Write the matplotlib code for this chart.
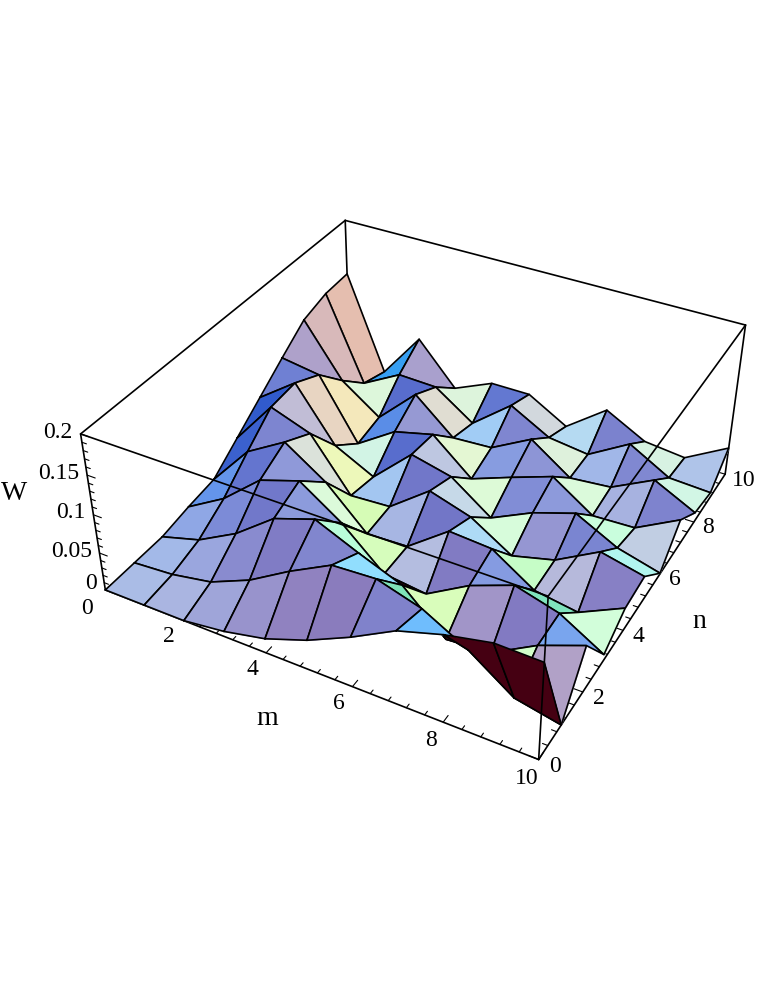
import numpy as np
import matplotlib
matplotlib.use("Agg")
import matplotlib.pyplot as plt
from mpl_toolkits.mplot3d import proj3d
from mpl_toolkits.mplot3d.art3d import Poly3DCollection

# W[n][m]
W_n0 = [0.000, 0.000, 0.000, 0.007, 0.019, 0.039, 0.065, 0.095, 0.112, 0.124, 0.123]
W_n1 = [0.000, 0.004, 0.014, 0.037, 0.069, 0.097, 0.100, 0.083, 0.052, 0.012, 0.000]
W_n2 = [0.000, 0.015, 0.043, 0.082, 0.100, 0.076, 0.054, 0.003, 0.007, 0.039, 0.061]
W_n3 = [0.007, 0.037, 0.080, 0.097, 0.060, 0.011, 0.004, 0.036, 0.057, 0.041, 0.008]
W_n4 = [0.012, 0.068, 0.098, 0.062, 0.010, 0.012, 0.052, 0.048, 0.012, 0.003, 0.030]
W_n5 = [0.038, 0.097, 0.078, 0.010, 0.013, 0.053, 0.036, 0.002, 0.016, 0.047, 0.034]
W_n6 = [0.064, 0.100, 0.030, 0.003, 0.052, 0.039, 0.000, 0.026, 0.044, 0.016, 0.001]
W_n7 = [0.090, 0.082, 0.001, 0.035, 0.048, 0.003, 0.023, 0.042, 0.006, 0.008, 0.038]
W_n8 = [0.115, 0.045, 0.008, 0.057, 0.012, 0.015, 0.044, 0.007, 0.012, 0.040, 0.013]
W_n9 = [0.125, 0.012, 0.040, 0.038, 0.002, 0.044, 0.015, 0.008, 0.040, 0.010, 0.007]
W_n10 = [0.127, 0.000, 0.063, 0.007, 0.030, 0.030, 0.000, 0.040, 0.012, 0.006, 0.037]

m_major = [0, 2, 4, 6, 8, 10]
n_major = [0, 2, 4, 6, 8, 10]
w_major = [0, 0.05, 0.1, 0.15, 0.2]
w_labels = ["0", "0.05", "0.1", "0.15", "0.2"]
m_minor = [i * 0.4 for i in range(26)]
w_minor = [i * 0.01 for i in range(21)]

W = np.array([W_n0, W_n1, W_n2, W_n3, W_n4, W_n5, W_n6, W_n7, W_n8, W_n9, W_n10])

ELEV = 36.2
AZIM = -61.56
SERIF = "Liberation Serif"
DEPTH_SQUASH = 3.9
UNDERSIDE = (0.27, 0.0, 0.07)

fig = plt.figure(figsize=(7.63, 9.87), dpi=100)
ax = fig.add_subplot(projection="3d", computed_zorder=False)
ax.set_position([0.0496, 0.1403, 1.0, 0.7730])
ax.view_init(elev=ELEV, azim=AZIM)
ax.set_box_aspect((1, 1, 0.4), zoom=0.883)
ax.set_proj_type("persp", focal_length=0.3866)
ax.set_xlim(0, 10)
ax.set_ylim(0, 10)
ax.set_zlim(0, 0.2)
ax.set_xticks([])
ax.set_yticks([])
ax.set_zticks([])
ax.set_axis_off()

# viewer axes for the three coloured lights
e = np.radians(ELEV)
a = np.radians(AZIM)
view_p = np.array([np.cos(e) * np.cos(a), np.cos(e) * np.sin(a), np.sin(e)])
view_r = np.array([-np.sin(a), np.cos(a), 0.0])
view_u = np.cross(view_p, view_r)
lights = np.array([[1, 0, 1], [1, 1, 1], [0, 1, 1]], dtype=float)
lights = lights / np.linalg.norm(lights, axis=1, keepdims=True)


def shade(p00, p10, p01):
    # colour of a quad comes from its first corner only
    scale = np.array([0.1, 0.1, 2.0])
    nrm = np.cross((p10 - p00) * scale, (p01 - p00) * scale)
    v = np.array([nrm @ view_r, nrm @ view_u, (nrm @ view_p) * DEPTH_SQUASH])
    v = v / np.linalg.norm(v)
    if v[2] < 0:
        return UNDERSIDE
    return tuple(np.clip(lights @ v, 0, 1))


def line(xs, ys, zs, z, lw=1.2):
    ax.plot(xs, ys, zs, color="black", lw=lw, zorder=z, solid_capstyle="round")


def label(x, y, z, s, size, ha="center"):
    sx, sy, _ = proj3d.proj_transform(x, y, z, ax.get_proj())
    ax.text2D(sx, sy, s, transform=ax.transData, family=SERIF, fontsize=size, ha=ha, va="center", zorder=9000)


# box edges behind the surface, axes and ticks
line([0, 0], [0, 10], [0.2, 0.2], 1)
line([0, 10], [10, 10], [0.2, 0.2], 1)
line([0, 0], [10, 10], [0, 0.2], 1)
line([0, 10], [0, 0], [0, 0], 1)
line([10, 10], [0, 10], [0, 0], 1)
line([0, 0], [0, 0], [0, 0.2], 1)
line([10, 10], [10, 10], [0, 0.2], 1)

for t in m_minor:
    size = 0.2 if round(t, 1) in m_major else 0.11
    line([t, t], [0, size], [0, 0], 1, lw=0.8)
    line([10, 10 - size], [t, t], [0, 0], 1, lw=0.8)
for t in w_minor:
    size = 0.2 if round(t, 2) in w_major else 0.11
    line([0, size], [0, 0], [t, t], 1, lw=0.8)

# surface, far quads first
order = 10
for j in range(9, -1, -1):
    for i in range(10):
        p00 = np.array([i, j, W[j, i]], dtype=float)
        p10 = np.array([i + 1, j, W[j, i + 1]], dtype=float)
        p11 = np.array([i + 1, j + 1, W[j + 1, i + 1]], dtype=float)
        p01 = np.array([i, j + 1, W[j + 1, i]], dtype=float)
        col = shade(p00, p10, p01)
        poly = Poly3DCollection([[p00, p10, p11, p01]], facecolors=[col], edgecolors=[col], linewidths=0.3, zorder=order)
        ax.add_collection3d(poly)
        ring = np.array([p00, p10, p11, p01, p00])
        line(ring[:, 0], ring[:, 1], ring[:, 2], order + 1)
        order += 2

# front box edges go over the surface
line([0, 10], [0, 0], [0.2, 0.2], order)
line([10, 10], [0, 10], [0.2, 0.2], order)
line([10, 10], [0, 0], [0, 0.2], order)

for t in m_major:
    label(t, -0.62 if t == 0 else -0.5, 0, str(t), 17)
for t in n_major:
    label(10.45 if t == 10 else 10.33, t, 0, str(t), 17)
for t, s in zip(w_major, w_labels):
    label(-0.2, 0, t + 0.006 if t == 0 else t, s, 17, ha="right")

label(5, -1.5, 0, "m", 20)
label(11.25, 5, 0, "n", 20)
label(-2.1, 0, 0.09, "W", 20)

fig.savefig("out.png", dpi=100)
